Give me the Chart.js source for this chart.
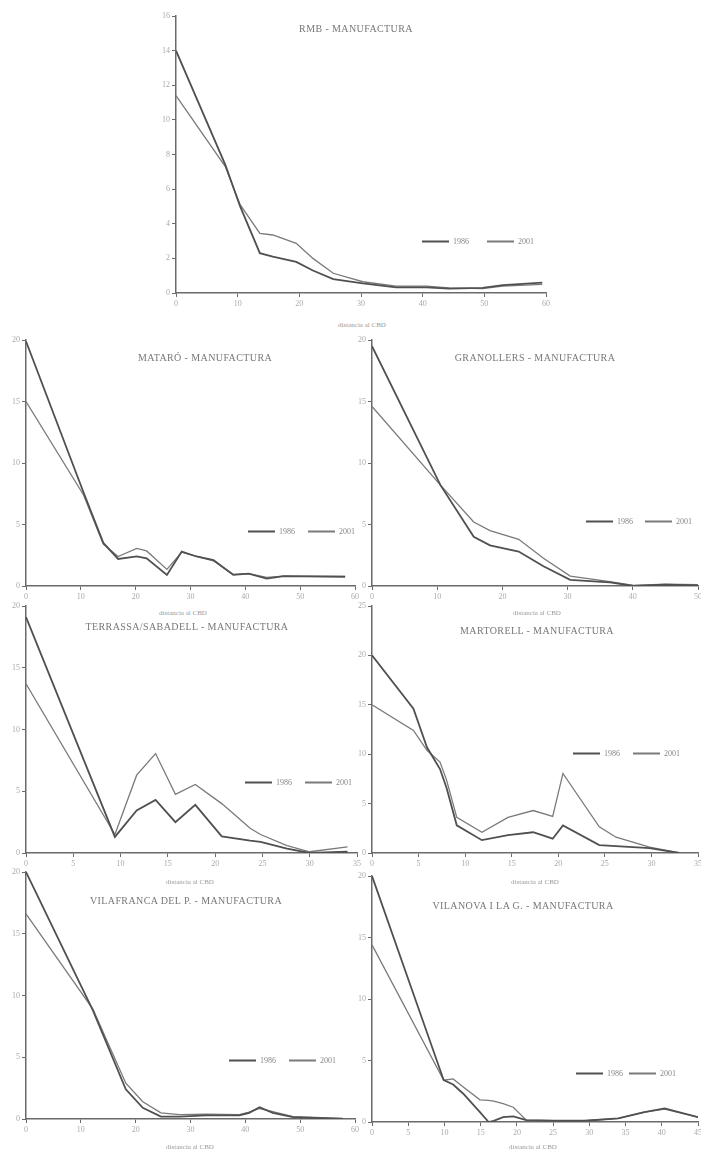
<!DOCTYPE html>
<html>
<head>
<meta charset="utf-8">
<script src="https://cdn.jsdelivr.net/npm/chart.js@4.4.1/dist/chart.umd.min.js"></script>
<style>
  html, body { margin: 0; padding: 0; background: #fff; overflow: hidden; }
  body { width: 701px; height: 1153px; position: relative; font-family: 'Liberation Serif', 'DejaVu Serif', serif; }
  canvas { position: absolute; }
  .ttl { position: absolute; transform: translate(-50%, -50%); font-size: 10px; color: #777; white-space: nowrap; letter-spacing: 0.4px; }
  .axt { position: absolute; transform: translate(-50%, -50%); font-size: 7px; color: #999; white-space: nowrap; }
  .leg { position: absolute; transform: translateY(-50%); font-size: 8px; color: #888; white-space: nowrap; display: flex; align-items: center; }
  .leg i { display: inline-block; height: 0; margin-right: 4px; }
</style>
</head>
<body>
<script>
/* ─────────────────────────────────────────
   DATA  (distance to CBD in km, share of employment)
───────────────────────────────────────── */
const seriesLabels = ['1986', '2001'];
const axisTitle = 'distancia al CBD';

const rmbX    = [0, 8, 10.4, 13.6, 15.7, 19.5, 22.2, 25.5, 30.3, 35.7, 40.6, 44.3, 49.7, 53, 59.4];
const rmb1986 = [14.0, 7.4, 5.0, 2.3, 2.1, 1.8, 1.3, 0.8, 0.55, 0.33, 0.33, 0.25, 0.3, 0.45, 0.6];
const rmb2001 = [11.4, 7.3, 5.1, 3.45, 3.35, 2.87, 2.0, 1.14, 0.65, 0.4, 0.4, 0.3, 0.25, 0.4, 0.5];

const mataroX    = [0, 10.5, 14.1, 16.8, 20.2, 22.0, 25.7, 28.4, 31.1, 34.2, 37.8, 40.6, 43.9, 47, 58.2];
const mataro1986 = [19.9, 7.6, 3.5, 2.2, 2.4, 2.25, 0.9, 2.8, 2.4, 2.1, 0.9, 1.0, 0.6, 0.8, 0.75];
const mataro2001 = [15.0, 7.4, 3.4, 2.4, 3.05, 2.85, 1.35, 2.75, 2.4, 2.05, 0.95, 1.0, 0.7, 0.8, 0.8];

const granollersX    = [0, 10.5, 15.6, 18.1, 22.5, 26.3, 30.4, 36.5, 40.1, 45, 50];
const granollers1986 = [19.5, 8.2, 4.0, 3.3, 2.8, 1.6, 0.5, 0.3, 0.0, 0.1, 0.05];
const granollers2001 = [14.6, 8.2, 5.2, 4.5, 3.8, 2.25, 0.8, 0.35, 0.05, 0.15, 0.1];

const terrassaX    = [0, 9.4, 11.7, 13.7, 15.8, 17.9, 20.7, 23.7, 24.8, 27.6, 30, 34];
const terrassa1986 = [19.1, 1.3, 3.45, 4.3, 2.5, 3.9, 1.35, 1.0, 0.9, 0.35, 0.0, 0.1];
const terrassa2001 = [13.7, 1.5, 6.3, 8.05, 4.75, 5.55, 4.0, 2.0, 1.5, 0.6, 0.1, 0.5];

const martorellX    = [0, 4.45, 5.9, 7.3, 8.0, 9.1, 11.8, 14.6, 17.3, 19.4, 20.5, 24.4, 26.2, 29.8, 33];
const martorell1986 = [20.0, 14.6, 10.7, 8.5, 6.6, 2.8, 1.3, 1.8, 2.1, 1.45, 2.8, 0.8, 0.7, 0.5, 0.0];
const martorell2001 = [15.0, 12.4, 10.4, 9.2, 7.4, 3.6, 2.1, 3.6, 4.3, 3.7, 8.05, 2.65, 1.6, 0.6, 0.0];

const vilafrancaX    = [0, 12.2, 18.2, 21.3, 24.6, 28, 32.8, 38.9, 40.7, 42.6, 45, 48.7, 57.8];
const vilafranca1986 = [20.0, 8.8, 2.4, 0.9, 0.2, 0.2, 0.3, 0.3, 0.5, 0.95, 0.5, 0.15, 0.0];
const vilafranca2001 = [16.6, 8.9, 2.9, 1.4, 0.5, 0.35, 0.4, 0.35, 0.55, 0.85, 0.6, 0.2, 0.05];

const vilanovaX    = [0, 9.9, 11.2, 12.6, 14.9, 16.1, 16.8, 18.1, 19.5, 21.3, 25, 29.4, 34, 37.6, 40.4, 45];
const vilanova1986 = [20.0, 3.4, 3.05, 2.3, 0.8, 0.0, 0.1, 0.4, 0.45, 0.15, 0.1, 0.1, 0.3, 0.8, 1.1, 0.4];
const vilanova2001 = [14.4, 3.4, 3.5, 2.85, 1.8, 1.75, 1.7, 1.5, 1.2, 0.15, 0.1, 0.1, 0.3, 0.8, 1.05, 0.4];

/* ─────────────────────────────────────────
   PANELS  (plot box = [left, right, top, bottom] in page px)
───────────────────────────────────────── */
const panels = [
  { title: 'RMB - MANUFACTURA', x: rmbX, a: rmb1986, b: rmb2001,
    xMax: 60, xStep: 10, yMax: 16, yStep: 2, box: [176, 546, 16, 293],
    titleAt: [356, 28], axisAt: [362, 325], leg: [422, 487, 241] },
  { title: 'MATARÓ - MANUFACTURA', x: mataroX, a: mataro1986, b: mataro2001,
    xMax: 60, xStep: 10, yMax: 20, yStep: 5, box: [26, 355, 340, 586],
    titleAt: [205, 357], axisAt: [183, 613], leg: [248, 308, 531] },
  { title: 'GRANOLLERS - MANUFACTURA', x: granollersX, a: granollers1986, b: granollers2001,
    xMax: 50, xStep: 10, yMax: 20, yStep: 5, box: [372, 698, 340, 586],
    titleAt: [535, 357], axisAt: [537, 613], leg: [586, 645, 521] },
  { title: 'TERRASSA/SABADELL - MANUFACTURA', x: terrassaX, a: terrassa1986, b: terrassa2001,
    xMax: 35, xStep: 5, yMax: 20, yStep: 5, box: [26, 357, 606, 853],
    titleAt: [187, 626], axisAt: [190, 882], leg: [245, 305, 782] },
  { title: 'MARTORELL - MANUFACTURA', x: martorellX, a: martorell1986, b: martorell2001,
    xMax: 35, xStep: 5, yMax: 25, yStep: 5, box: [372, 698, 606, 853],
    titleAt: [537, 630], axisAt: [535, 882], leg: [573, 633, 753] },
  { title: 'VILAFRANCA DEL P. - MANUFACTURA', x: vilafrancaX, a: vilafranca1986, b: vilafranca2001,
    xMax: 60, xStep: 10, yMax: 20, yStep: 5, box: [26, 355, 872, 1119],
    titleAt: [186, 900], axisAt: [190, 1147], leg: [229, 289, 1060] },
  { title: 'VILANOVA I LA G. - MANUFACTURA', x: vilanovaX, a: vilanova1986, b: vilanova2001,
    xMax: 45, xStep: 5, yMax: 20, yStep: 5, box: [372, 698, 876, 1122],
    titleAt: [523, 905], axisAt: [533, 1147], leg: [576, 629, 1073] },
];

const LINE_A = '#505050';
const LINE_B = '#7a7a7a';
const AXIS   = '#6a6a6a';
const FONT   = "'Liberation Serif', 'DejaVu Serif', serif";

// space reserved round the plot box inside each canvas
const PAD_L = 6, Y_W = 20, PAD_R = 12, PAD_T = 8, X_H = 22;

function addDiv(cls, text, x, y) {
  const d = document.createElement('div');
  d.className = cls;
  d.textContent = text;
  d.style.left = x + 'px';
  d.style.top = y + 'px';
  document.body.appendChild(d);
  return d;
}

function addLegendItem(x, y, label, color, thick) {
  const d = document.createElement('div');
  d.className = 'leg';
  d.style.left = x + 'px';
  d.style.top = y + 'px';
  const sw = document.createElement('i');
  sw.style.width = '27px';
  sw.style.borderTop = thick + 'px solid ' + color;
  d.appendChild(sw);
  d.appendChild(document.createTextNode(label));
  document.body.appendChild(d);
}

function toPoints(xs, ys) {
  return xs.map((v, i) => ({ x: v, y: ys[i] }));
}

panels.forEach(p => {
  const [x0, x1, yT, yB] = p.box;
  const cv = document.createElement('canvas');
  const w = x1 - x0 + PAD_L + Y_W + PAD_R;
  const h = yB - yT + PAD_T + X_H;
  cv.width = w; cv.height = h;
  cv.style.left = (x0 - PAD_L - Y_W) + 'px';
  cv.style.top = (yT - PAD_T) + 'px';
  cv.style.width = w + 'px';
  cv.style.height = h + 'px';
  document.body.appendChild(cv);

  const tickFont = { family: FONT, size: 8 };

  new Chart(cv, {
    type: 'line',
    data: {
      datasets: [
        { label: seriesLabels[0], data: toPoints(p.x, p.a), borderColor: LINE_A,
          borderWidth: 1.8, pointRadius: 0, tension: 0, fill: false },
        { label: seriesLabels[1], data: toPoints(p.x, p.b), borderColor: LINE_B,
          borderWidth: 1.3, pointRadius: 0, tension: 0, fill: false },
      ]
    },
    options: {
      responsive: false,
      animation: false,
      events: [],
      layout: { padding: { left: PAD_L, right: PAD_R, top: PAD_T, bottom: 0 } },
      plugins: { legend: { display: false }, tooltip: { enabled: false } },
      scales: {
        x: {
          type: 'linear', min: 0, max: p.xMax,
          grid: { drawOnChartArea: false, drawTicks: true, tickLength: 4, color: AXIS },
          border: { display: true, color: AXIS, width: 1.5 },
          ticks: { stepSize: p.xStep, autoSkip: false, maxRotation: 0, padding: 2,
                   font: tickFont, color: '#aaa' },
          afterFit: s => { s.height = X_H; }
        },
        y: {
          min: 0, max: p.yMax,
          grid: { drawOnChartArea: false, drawTicks: true, tickLength: 4, color: AXIS },
          border: { display: true, color: AXIS, width: 1.5 },
          ticks: { stepSize: p.yStep, padding: 2, font: tickFont, color: '#aaa' },
          afterFit: s => { s.width = Y_W; }
        }
      }
    }
  });

  addDiv('ttl', p.title, p.titleAt[0], p.titleAt[1]);
  addDiv('axt', axisTitle, p.axisAt[0], p.axisAt[1]);
  addLegendItem(p.leg[0], p.leg[2], seriesLabels[0], LINE_A, 2);
  addLegendItem(p.leg[1], p.leg[2], seriesLabels[1], LINE_B, 2);
});
</script>
</body>
</html>
